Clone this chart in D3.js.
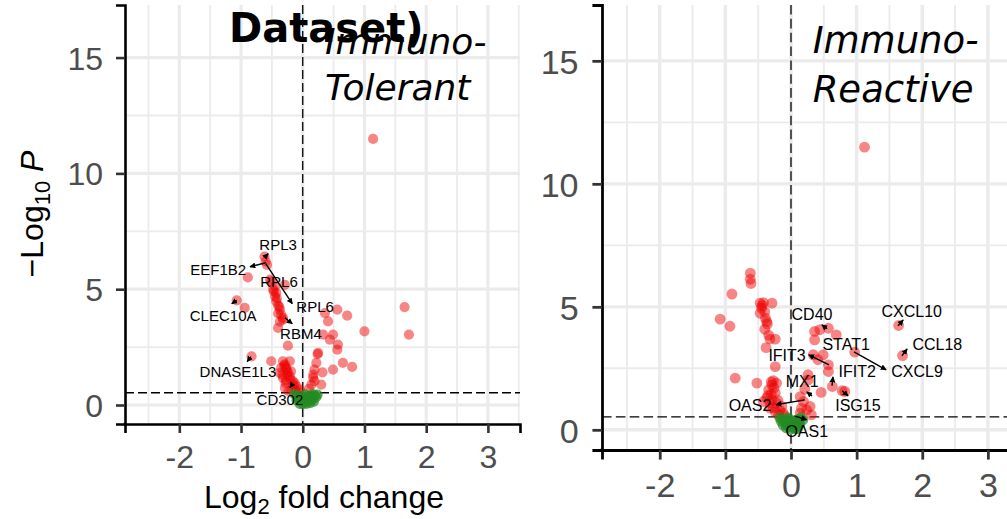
<!DOCTYPE html>
<html><head><meta charset="utf-8">
<script src="https://cdn.jsdelivr.net/npm/d3@7"></script>
<style>body{margin:0;background:#fff;overflow:hidden}</style>
</head><body>
<svg id="c" width="1007" height="519" xmlns="http://www.w3.org/2000/svg"></svg>
<script>
// ---------------- data ----------------
const xTicks = [-2, -1, 0, 1, 2, 3];
const yTicks = [0, 5, 10, 15];
const xMinor = [-2.5, -1.5, -0.5, 0.5, 1.5, 2.5, 3.5];
const yMinor = [2.5, 7.5, 12.5];
const pCutoffLine = 0.53;   // -log10 P threshold line
const fcCutoffLine = 0;     // log2 FC line

// Immuno-Tolerant panel: significant (red) genes [log2FC, -log10P]
const tolerantSig = [
  [-0.62,6.41],[-0.60,6.20],[-0.58,6.05],[-0.89,5.51],[-0.53,5.41],[-0.51,5.34],[-0.45,5.12],[-0.29,5.19],
  [-0.47,4.91],[-0.43,4.84],[-0.45,4.69],[-0.43,4.47],[-0.40,4.30],[-0.37,4.12],[-0.40,3.95],[-0.32,3.76],
  [-0.32,3.69],[-0.37,3.60],[-0.40,3.33],[-0.24,2.56],[-1.07,4.52],[-0.94,4.19],[-0.83,2.10],
  [-0.42,4.60],[-0.38,4.25],[-0.35,3.90],[-0.48,5.00],
  [-0.51,1.89],[-0.32,1.89],[-0.21,1.89],[-0.29,1.75],[-0.35,1.60],[-0.26,1.53],[-0.37,1.39],[-0.21,1.24],
  [-0.32,1.17],[-0.16,1.03],[-0.29,0.74],[-0.18,0.67],[-0.10,0.81],[-0.07,0.58],[-0.05,0.67],[-0.24,1.40],
  [-0.13,0.95],[-0.27,1.05],[-0.30,1.70],[-0.25,1.30],[-0.20,1.10],[-0.15,0.85],[-0.28,0.95],[-0.33,1.30],
  [-0.23,0.60],[-0.12,0.62],[-0.27,1.62],[-0.19,1.45],
  [0.25,2.25],[0.19,1.53],[0.17,1.31],[0.32,1.41],[0.49,1.53],[0.65,1.82],[0.80,1.65],[0.22,1.82],
  [0.19,1.03],[0.30,0.88],[0.14,0.88],[0.10,0.70],[0.17,1.17],[0.24,2.20],
  [0.36,3.97],[0.41,3.61],[0.56,4.12],[0.72,3.86],[0.33,3.04],[0.44,2.82],[0.49,3.04],[0.57,2.61],
  [0.56,2.39],[1.00,3.18],[1.65,4.23],[1.72,3.04],[1.14,11.49]
];
const tolerantNS = [
  [-0.14,0.48],[-0.10,0.38],[-0.07,0.28],[-0.04,0.15],[0.00,0.04],[0.03,0.10],[0.06,0.20],[0.09,0.30],
  [0.12,0.40],[0.16,0.47],[0.20,0.42],[0.14,0.30],[0.07,0.36],[0.03,0.28],[-0.02,0.40],[0.10,0.15],
  [0.17,0.25],[0.22,0.35],[0.00,0.24],[0.06,0.05],[-0.10,0.20],[0.12,0.08],[0.18,0.15],[-0.05,0.05],
  [0.24,0.45],[0.04,0.46]
];
// Immuno-Reactive panel
const reactiveSig = [
  [-0.62,6.37],[-0.62,6.12],[-0.61,5.95],[-0.90,5.52],[-0.47,5.15],[-0.42,5.17],[-0.29,5.15],[-1.08,4.50],
  [-0.93,4.21],[-0.47,4.74],[-0.39,4.54],[-0.37,4.40],[-0.40,4.09],[-0.32,3.70],[-0.24,3.69],[-0.38,3.34],
  [-0.24,2.57],[-0.85,2.10],[-0.52,1.90],[-0.45,4.95],[-0.44,5.05],[-0.40,4.80],[-0.36,4.30],[-0.34,3.85],
  [-0.29,1.83],[-0.22,1.90],[-0.34,1.63],[-0.24,1.49],[-0.37,1.29],[-0.29,1.22],[-0.22,1.09],[-0.14,0.95],
  [-0.32,0.88],[-0.24,0.74],[-0.12,0.68],[-0.19,0.61],[-0.32,1.09],[-0.42,1.15],[-0.27,2.00],[-0.30,1.45],
  [-0.30,1.95],[-0.26,1.70],[-0.35,1.40],[-0.20,1.20],[-0.27,0.90],[-0.17,0.80],[-0.10,0.58],
  [0.26,2.03],[0.21,1.65],[0.14,1.35],[0.19,1.15],[0.29,0.95],[0.16,0.88],[0.24,0.81],[0.31,0.61],
  [0.14,0.68],[0.46,1.52],[0.63,1.76],[0.82,1.56],[0.26,2.24],[0.78,1.59],
  [0.36,4.00],[0.44,4.07],[0.57,4.13],[0.69,3.86],[0.36,3.66],[0.97,3.16],[0.34,3.05],[0.49,3.05],
  [0.41,2.85],[0.57,2.64],[0.57,2.37],[1.64,4.24],[1.70,3.02],[1.12,11.49]
];
const reactiveNS = [
  [-0.17,0.50],[-0.12,0.40],[-0.08,0.28],[-0.04,0.15],[0.00,0.04],[0.03,0.12],[0.06,0.22],[0.09,0.32],
  [0.12,0.42],[0.15,0.49],[0.12,0.28],[0.05,0.36],[0.02,0.30],[-0.02,0.42],[0.09,0.14],[0.13,0.22],
  [-0.12,0.20],[0.00,0.24],[0.06,0.05],[-0.05,0.48],[-0.15,0.35],[0.18,0.40],[-0.07,0.08],[0.10,0.05]
];

// labels: [text, labelX, labelBaselineY, fromX, fromY, toX, toY] in data units (from = gene point, to = arrow head)
const tolerantLabels = [
  ["RPL3",     -0.40, 6.70, -0.61, 6.40, -0.56, 6.53],
  ["EEF1B2",   -1.37, 5.63, -0.60, 6.14, -0.855, 5.97],
  ["RPL6",     -0.385,5.11, null, null, null, null],
  ["RPL6",      0.20, 4.03, -0.60, 6.10, -0.17, 4.375],
  ["CLEC10A",  -1.29, 3.64, -1.07, 4.52, -1.15, 4.375],
  ["RBM4",     -0.03, 2.87, -0.29, 3.77, -0.17, 3.51],
  ["DNASE1L3", -1.05, 1.23, -0.84, 2.09, -0.90, 1.875],
  ["CD302",    -0.37, 0.02, -0.16, 0.93, -0.21, 0.75]
];
const reactiveLabels = [
  ["CD40",    0.32, 4.47, 0.55, 4.11, 0.47, 4.27],
  ["CXCL10",  1.84, 4.59, 1.63, 4.23, 1.71, 4.47],
  ["CCL18",   2.23, 3.25, 1.69, 3.01, 1.77, 3.29],
  ["STAT1",   0.84, 3.25, null, null, null, null],
  ["CXCL9",   1.92, 2.15, 0.96, 3.17, 1.45, 2.44],
  ["IFIT3",  -0.06, 2.80, 0.58, 2.64, 0.27, 3.05],
  ["IFIT2",   1.01, 2.15, 0.625,1.79, 0.64, 2.15],
  ["MX1",     0.17, 1.75, 0.32, 1.38, 0.24, 1.54],
  ["ISG15",   1.02, 0.77, 0.78, 1.59, 0.87, 1.38],
  ["OAS2",   -0.625,0.77, 0.21, 1.22, -0.23, 1.02],
  ["OAS1",    0.24,-0.28, 0.05, 0.57, 0.24, 0.41]
];

const xDomain = [-2.88, 3.52];
const yDomain = [-0.82, 17.27];

// ---------------- drawing ----------------
const svg = d3.select("#c");
svg.append("rect").attr("width",1007).attr("height",519).attr("fill","#fff");
const defs = svg.append("defs");
defs.append("marker").attr("id","arr").attr("viewBox","0 0 10 10")
  .attr("refX",9).attr("refY",5).attr("markerWidth",6).attr("markerHeight",6)
  .attr("markerUnits","userSpaceOnUse").attr("orient","auto")
  .append("path").attr("d","M0,0 L10,5 L0,10 z").attr("fill","#000");

function panel(cfg){
  const s = cfg.s;
  const x = d3.scaleLinear().domain(xDomain).range([cfg.x0, cfg.x1]);
  const y = d3.scaleLinear().domain(yDomain).range([cfg.y1, cfg.y0]);
  const g = svg.append("g");
  // grid
  g.selectAll(".gxm").data(xMinor).join("line").attr("x1",d=>x(d)).attr("x2",d=>x(d))
    .attr("y1",cfg.y0).attr("y2",cfg.y1).attr("stroke","#ebebeb").attr("stroke-width",1.8*s);
  g.selectAll(".gym").data(yMinor).join("line").attr("y1",d=>y(d)).attr("y2",d=>y(d))
    .attr("x1",cfg.x0).attr("x2",cfg.x1).attr("stroke","#ebebeb").attr("stroke-width",1.8*s);
  g.selectAll(".gx").data(xTicks).join("line").attr("x1",d=>x(d)).attr("x2",d=>x(d))
    .attr("y1",cfg.y0).attr("y2",cfg.y1).attr("stroke","#ebebeb").attr("stroke-width",3.2*s);
  g.selectAll(".gy").data(yTicks).join("line").attr("y1",d=>y(d)).attr("y2",d=>y(d))
    .attr("x1",cfg.x0).attr("x2",cfg.x1).attr("stroke","#ebebeb").attr("stroke-width",3.2*s);
  // cutoff lines
  g.append("line").attr("x1",x(fcCutoffLine)).attr("x2",x(fcCutoffLine)).attr("y1",cfg.y0).attr("y2",cfg.y1)
    .attr("stroke","#000").attr("stroke-width",1.3).attr("stroke-dasharray",`${9*s},${4*s}`);
  g.append("line").attr("y1",y(pCutoffLine)).attr("y2",y(pCutoffLine)).attr("x1",cfg.x0).attr("x2",cfg.x1)
    .attr("stroke","#000").attr("stroke-width",1.3).attr("stroke-dasharray",`${9*s},${4*s}`);
  // points
  g.selectAll(".sig").data(cfg.sig).join("circle").attr("cx",d=>x(d[0])).attr("cy",d=>y(d[1]))
    .attr("r",5.1*s).attr("fill","#ee0000").attr("fill-opacity",0.48);
  g.selectAll(".ns").data(cfg.ns).join("circle").attr("cx",d=>x(d[0])).attr("cy",d=>y(d[1]))
    .attr("r",5.1*s).attr("fill","#228b22").attr("fill-opacity",0.7);
  // connectors & labels
  const withSeg = cfg.labels.filter(d=>d[3]!==null);
  g.selectAll(".seg").data(withSeg).join("line")
    .attr("x1",d=>x(d[3])).attr("y1",d=>y(d[4])).attr("x2",d=>x(d[5])).attr("y2",d=>y(d[6]))
    .attr("stroke","#000").attr("stroke-width",1.4).attr("marker-end","url(#arr)");
  g.selectAll(".lab").data(cfg.labels).join("text")
    .attr("x",d=>x(d[1])).attr("y",d=>y(d[2])).attr("text-anchor","middle")
    .attr("font-family","Liberation Sans, Arial, sans-serif").attr("font-size",cfg.labSize)
    .attr("fill","#000").text(d=>d[0]);
  // axes
  const ax = g.append("g").attr("transform",`translate(0,${cfg.y1})`)
    .call(d3.axisBottom(x).tickValues(xTicks).tickSizeOuter(0).tickSize(9*s).tickPadding(12*s).tickFormat(d3.format("d")));
  const ay = g.append("g").attr("transform",`translate(${cfg.x0},0)`)
    .call(d3.axisLeft(y).tickValues(yTicks).tickSizeOuter(0).tickSize(9*s).tickPadding(13*s).tickFormat(d3.format("d")));
  [ax, ay].forEach(a=>{
    a.select(".domain").attr("stroke","#000").attr("stroke-width",2.6*s);
    a.selectAll(".tick line").attr("stroke","#333").attr("stroke-width",2.6*s);
    a.selectAll(".tick text").attr("font-family","Liberation Sans, Arial, sans-serif")
      .attr("font-size",32*s).attr("fill","#4d4d4d").text(d=>String(d).replace("−","-"));
  });
  ay.selectAll(".tick text").attr("dy","0.36em");
  // corner fill
  g.append("rect").attr("x",cfg.x0-1.3*s).attr("y",cfg.y1-1.3*s).attr("width",2.6*s).attr("height",2.6*s).attr("fill","#000");
  // annotation
  const t = g.append("text").attr("font-family","DejaVu Sans, sans-serif").attr("font-style","italic")
    .attr("font-size",cfg.annSize).attr("fill","#000");
  t.append("tspan").attr("x",x(cfg.annX)).attr("y",y(cfg.annY)).text(cfg.ann[0]);
  t.append("tspan").attr("x",x(cfg.annX)).attr("dy",46*s).text(cfg.ann[1]);
  return {x,y};
}

panel({x0:125, x1:520, y0:5, y1:424, s:1, sig:tolerantSig, ns:tolerantNS, labels:tolerantLabels,
       labSize:15, annSize:36, annX:0.36, annY:15.15, ann:["Immuno-","Tolerant"]});
panel({x0:602, x1:1022, y0:5, y1:450, s:1.065, sig:reactiveSig, ns:reactiveNS, labels:reactiveLabels,
       labSize:16, annSize:37, annX:0.33, annY:15.3, ann:["Immuno-","Reactive"]});

// axis titles (left panel)
const xt = svg.append("text").attr("x",324).attr("y",508).attr("text-anchor","middle")
  .attr("font-family","Liberation Sans, Arial, sans-serif").attr("font-size",32).attr("fill","#000");
xt.append("tspan").text("Log");
xt.append("tspan").attr("font-size",22).attr("dy",6).text("2");
xt.append("tspan").attr("dy",-6).text(" fold change");

const yt = svg.append("text").attr("transform","translate(43,214) rotate(-90)").attr("text-anchor","middle")
  .attr("font-family","Liberation Sans, Arial, sans-serif").attr("font-size",32).attr("fill","#000");
yt.append("tspan").text("\u2212Log");
yt.append("tspan").attr("font-size",22).attr("dy",7).text("10");
yt.append("tspan").attr("dy",-7).text(" ");
yt.append("tspan").attr("font-style","italic").text("P");

// partial plot title
svg.append("text").attr("x",229).attr("y",42).attr("font-family","DejaVu Sans, sans-serif")
  .attr("font-weight","bold").attr("font-size",40).attr("fill","#000").text("Dataset)");
</script>
</body></html>
